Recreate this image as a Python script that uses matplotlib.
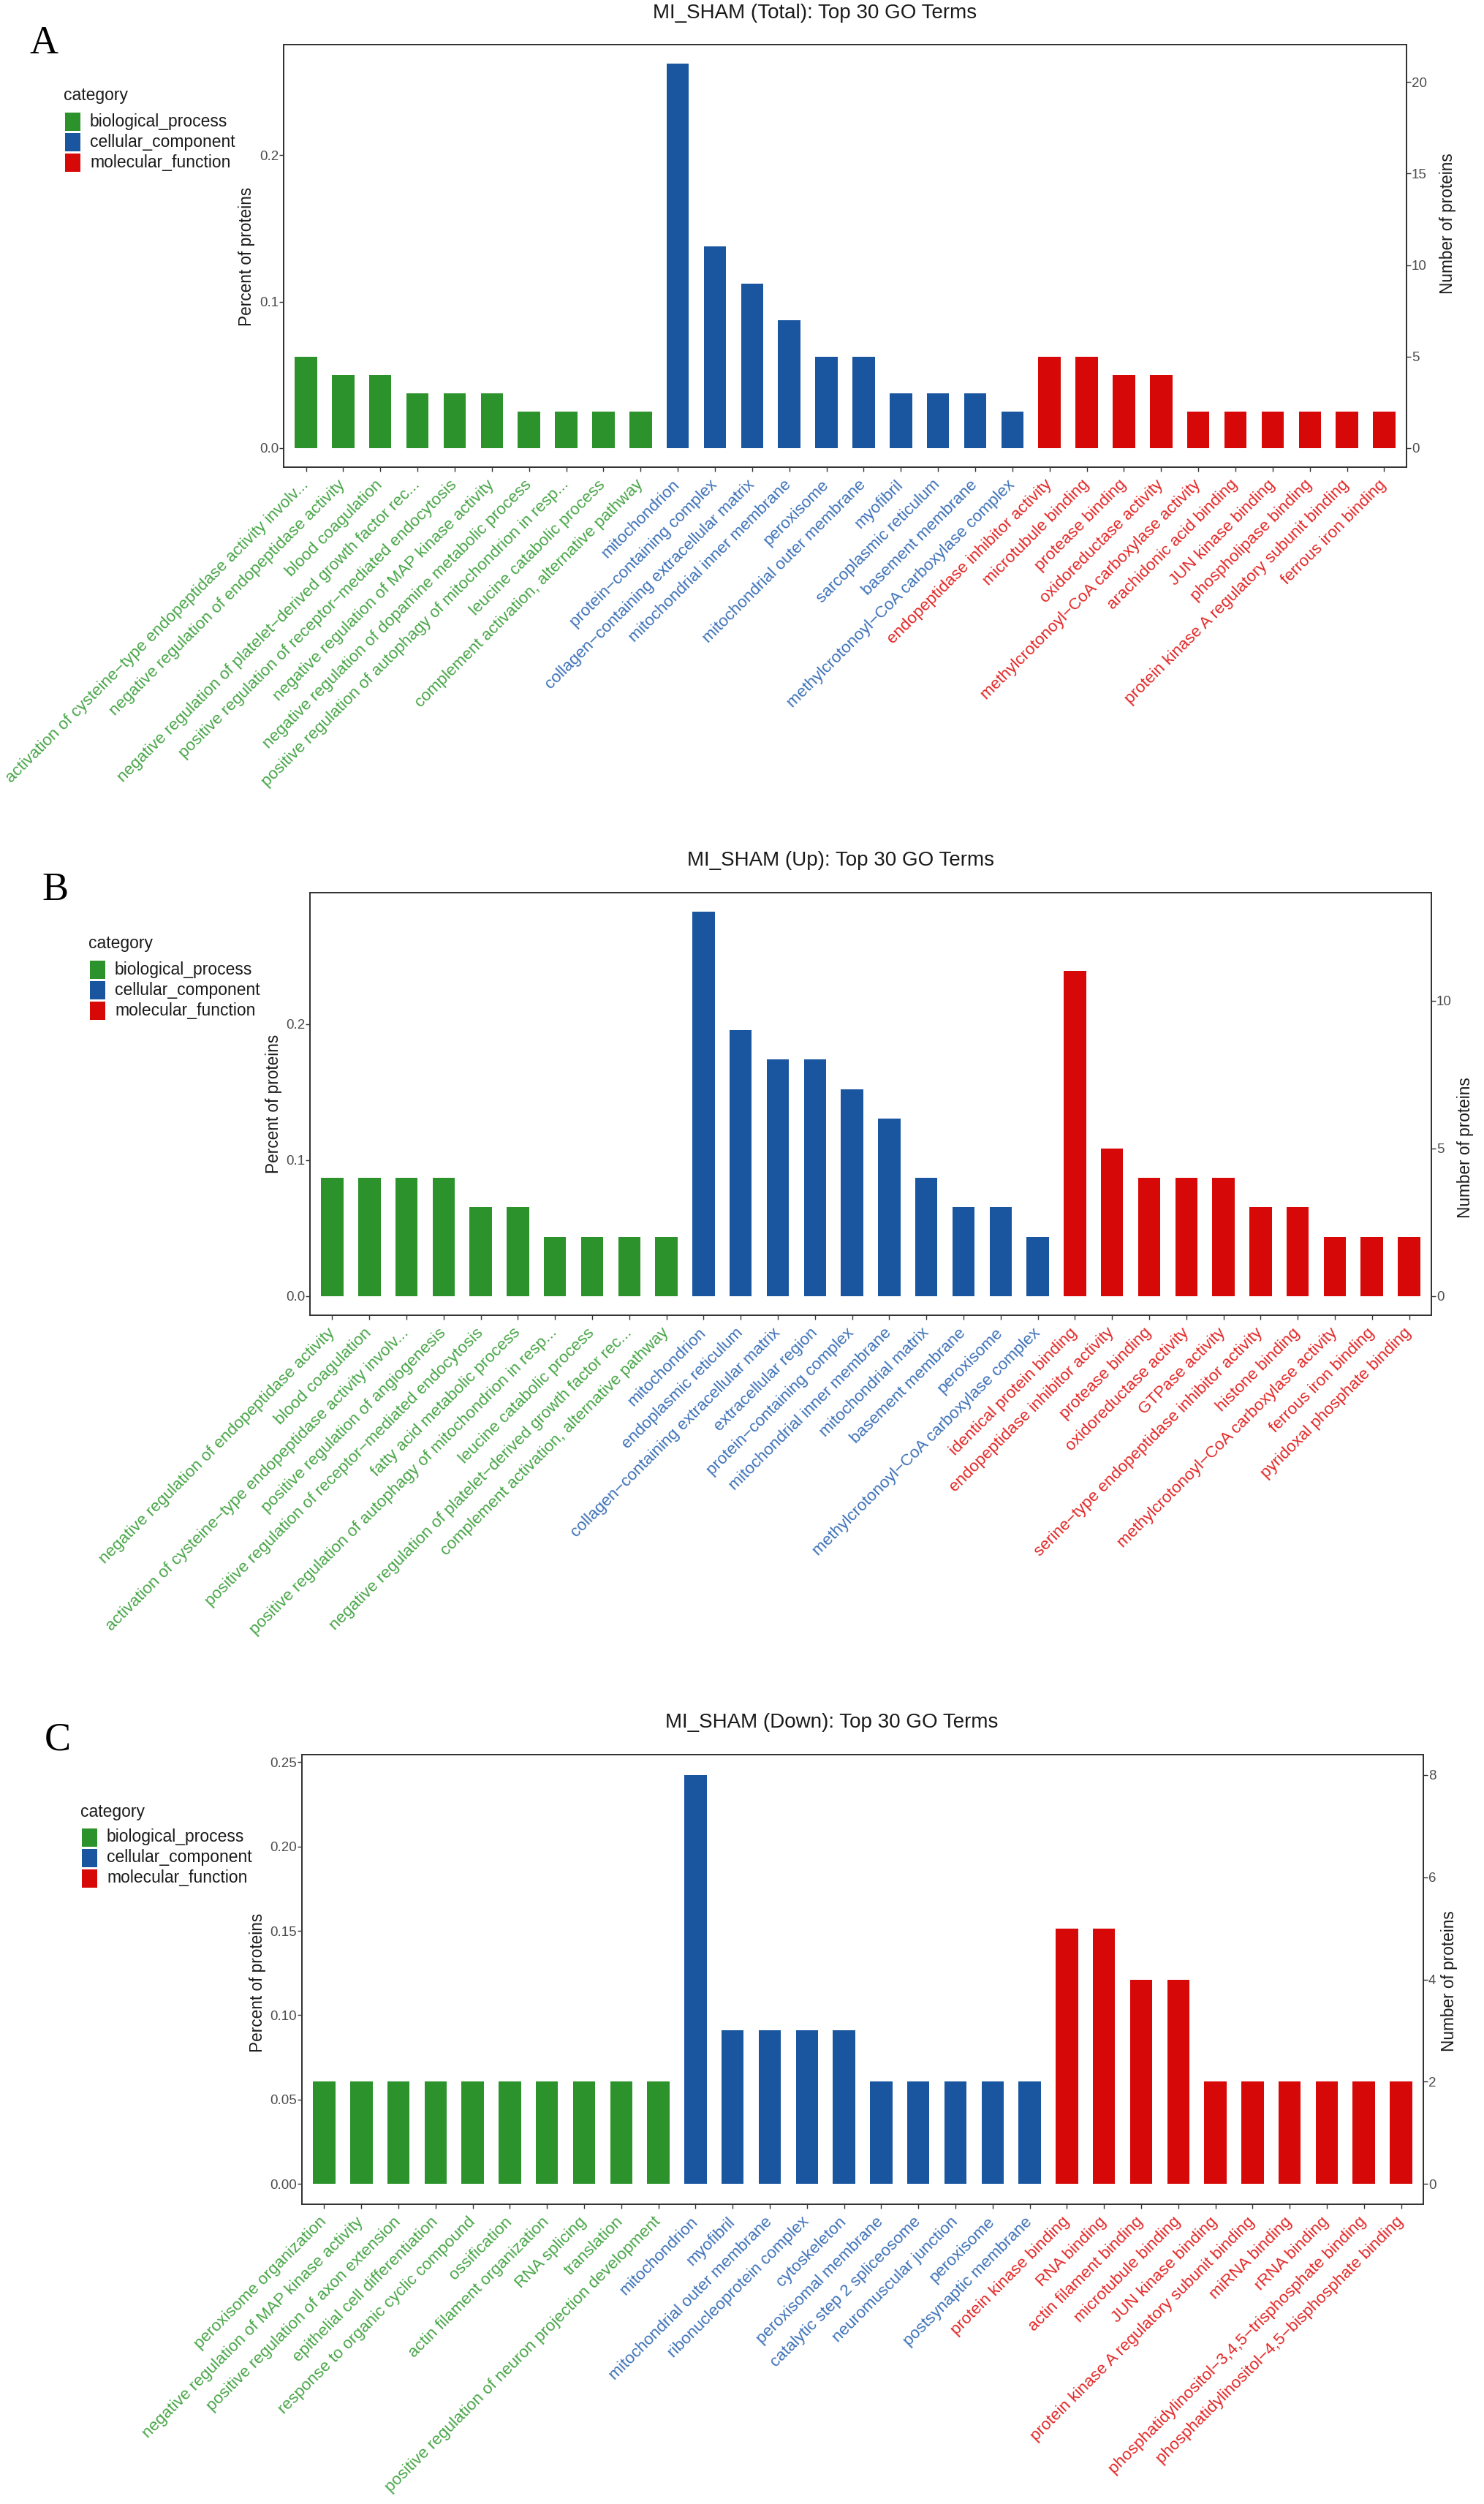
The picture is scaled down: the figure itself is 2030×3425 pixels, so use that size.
import numpy as np
import matplotlib
matplotlib.use("Agg")
import matplotlib.pyplot as plt
from matplotlib.patches import Rectangle

# ---- data -------------------------------------------------------------
categories = ["biological_process", "cellular_component", "molecular_function"]

# A: MI_SHAM (Total)
total_terms = [
    "activation of cysteine\u2212type endopeptidase activity involv...",
    "negative regulation of endopeptidase activity",
    "blood coagulation",
    "negative regulation of platelet\u2212derived growth factor rec...",
    "positive regulation of receptor\u2212mediated endocytosis",
    "negative regulation of MAP kinase activity",
    "negative regulation of dopamine metabolic process",
    "positive regulation of autophagy of mitochondrion in resp...",
    "leucine catabolic process",
    "complement activation, alternative pathway",
    "mitochondrion",
    "protein\u2212containing complex",
    "collagen\u2212containing extracellular matrix",
    "mitochondrial inner membrane",
    "peroxisome",
    "mitochondrial outer membrane",
    "myofibril",
    "sarcoplasmic reticulum",
    "basement membrane",
    "methylcrotonoyl\u2212CoA carboxylase complex",
    "endopeptidase inhibitor activity",
    "microtubule binding",
    "protease binding",
    "oxidoreductase activity",
    "methylcrotonoyl\u2212CoA carboxylase activity",
    "arachidonic acid binding",
    "JUN kinase binding",
    "phospholipase binding",
    "protein kinase A regulatory subunit binding",
    "ferrous iron binding",
]
total_counts = [5, 4, 4, 3, 3, 3, 2, 2, 2, 2,
                21, 11, 9, 7, 5, 5, 3, 3, 3, 2,
                5, 5, 4, 4, 2, 2, 2, 2, 2, 2]
total_n = 80

# B: MI_SHAM (Up)
up_terms = [
    "negative regulation of endopeptidase activity",
    "blood coagulation",
    "activation of cysteine\u2212type endopeptidase activity involv...",
    "positive regulation of angiogenesis",
    "positive regulation of receptor\u2212mediated endocytosis",
    "fatty acid metabolic process",
    "positive regulation of autophagy of mitochondrion in resp...",
    "leucine catabolic process",
    "negative regulation of platelet\u2212derived growth factor rec...",
    "complement activation, alternative pathway",
    "mitochondrion",
    "endoplasmic reticulum",
    "collagen\u2212containing extracellular matrix",
    "extracellular region",
    "protein\u2212containing complex",
    "mitochondrial inner membrane",
    "mitochondrial matrix",
    "basement membrane",
    "peroxisome",
    "methylcrotonoyl\u2212CoA carboxylase complex",
    "identical protein binding",
    "endopeptidase inhibitor activity",
    "protease binding",
    "oxidoreductase activity",
    "GTPase activity",
    "serine\u2212type endopeptidase inhibitor activity",
    "histone binding",
    "methylcrotonoyl\u2212CoA carboxylase activity",
    "ferrous iron binding",
    "pyridoxal phosphate binding",
]
up_counts = [4, 4, 4, 4, 3, 3, 2, 2, 2, 2,
             13, 9, 8, 8, 7, 6, 4, 3, 3, 2,
             11, 5, 4, 4, 4, 3, 3, 2, 2, 2]
up_n = 46

# C: MI_SHAM (Down)
down_terms = [
    "peroxisome organization",
    "negative regulation of MAP kinase activity",
    "positive regulation of axon extension",
    "epithelial cell differentiation",
    "response to organic cyclic compound",
    "ossification",
    "actin filament organization",
    "RNA splicing",
    "translation",
    "positive regulation of neuron projection development",
    "mitochondrion",
    "myofibril",
    "mitochondrial outer membrane",
    "ribonucleoprotein complex",
    "cytoskeleton",
    "peroxisomal membrane",
    "catalytic step 2 spliceosome",
    "neuromuscular junction",
    "peroxisome",
    "postsynaptic membrane",
    "protein kinase binding",
    "RNA binding",
    "actin filament binding",
    "microtubule binding",
    "JUN kinase binding",
    "protein kinase A regulatory subunit binding",
    "miRNA binding",
    "rRNA binding",
    "phosphatidylinositol\u22123,4,5\u2212trisphosphate binding",
    "phosphatidylinositol\u22124,5\u2212bisphosphate binding",
]
down_counts = [2, 2, 2, 2, 2, 2, 2, 2, 2, 2,
               8, 3, 3, 3, 3, 2, 2, 2, 2, 2,
               5, 5, 4, 4, 2, 2, 2, 2, 2, 2]
down_n = 33

term_category = [0] * 10 + [1] * 10 + [2] * 10

# ---- style ------------------------------------------------------------
W, H, DPI = 2031, 3425, 100
bar_colors = ["#2C922C", "#1A56A0", "#D70808"]
text_colors = ["#47A547", "#3D71B7", "#E32626"]
SANS = "Liberation Sans"
SERIF = "Liberation Serif"

plt.rcParams["font.family"] = SANS

fig = plt.figure(figsize=(W / DPI, H / DPI), dpi=DPI, facecolor="white")


def fx(px):
    return px / W


def fy(py):
    return 1 - py / H


def draw_panel(box, letter, letter_xy, title, title_xy, terms, counts, n_total,
               pct_ticks, pct_fmt, count_ticks, legend_xy, ylab_l, ylab_r):
    left, top, right, bottom = box
    ax = fig.add_axes([fx(left), fy(bottom), (right - left) / W, (bottom - top) / H])
    x = np.arange(len(terms))
    counts = np.array(counts)
    pct = counts / n_total
    cols = [bar_colors[c] for c in term_category]
    ax.bar(x, pct, width=0.6, color=cols, zorder=2)
    ax.set_xlim(-0.6, len(terms) - 0.4)
    ax.set_ylim(-0.05 * pct.max(), 1.05 * pct.max())

    ax.set_yticks(pct_ticks)
    ax.set_yticklabels([pct_fmt.format(t) for t in pct_ticks])
    ax.set_xticks(x)
    ax.set_xticklabels(terms, rotation=45, ha="right", va="center",
                       rotation_mode="anchor", fontsize=16.2)
    for lab, c in zip(ax.get_xticklabels(), term_category):
        lab.set_color(text_colors[c])
    ax.tick_params(axis="x", length=4, width=1, color="#333333", pad=11)
    ax.tick_params(axis="y", length=4, width=1, color="#333333", pad=1,
                   labelsize=13.5, labelcolor="#4D4D4D")

    ax2 = ax.twinx()
    ax2.set_ylim(-0.05 * counts.max(), 1.05 * counts.max())
    ax2.set_yticks(count_ticks)
    ax2.tick_params(axis="y", length=4, width=1, color="#333333", pad=1,
                    labelsize=13.5, labelcolor="#4D4D4D")
    for a in (ax, ax2):
        for s in a.spines.values():
            s.set_linewidth(1.3)
            s.set_color("#333333")

    fig.text(fx(ylab_l[0]), fy(ylab_l[1]), "Percent of proteins", rotation=90,
             ha="center", va="center", fontsize=16.3, color="#1A1A1A")
    fig.text(fx(ylab_r[0]), fy(ylab_r[1]), "Number of proteins", rotation=90,
             ha="center", va="center", fontsize=16.3, color="#1A1A1A")

    fig.text(fx(title_xy[0]), fy(title_xy[1]), title, ha="center", va="center",
             fontsize=20, color="#1A1A1A")
    fig.text(fx(letter_xy[0]), fy(letter_xy[1]), letter, ha="center", va="center",
             fontsize=39, family=SERIF, color="black")

    # legend
    lx, ly = legend_xy
    fig.text(fx(lx - 2), fy(ly), "category", ha="left", va="center",
             fontsize=16.5, color="#1A1A1A")
    for i, name in enumerate(categories):
        cy = ly + 35 + 28 * i
        fig.patches.append(Rectangle((fx(lx), fy(cy + 12.5)), 21 / W, 25 / H,
                                     transform=fig.transFigure,
                                     facecolor=bar_colors[i], edgecolor="none"))
        fig.text(fx(lx + 34), fy(cy), name, ha="left", va="center",
                 fontsize=16.5, color="#1A1A1A")


draw_panel((388, 61, 1924, 639), "A", (60, 60),
           "MI_SHAM (Total): Top 30 GO Terms", (1115, 18),
           total_terms, total_counts, total_n,
           [0.0, 0.1, 0.2], "{:.1f}", [0, 5, 10, 15, 20],
           (89, 131), (338, 351), (1981, 306))

draw_panel((424, 1221, 1958, 1799), "B", (76, 1218),
           "MI_SHAM (Up): Top 30 GO Terms", (1150, 1177),
           up_terms, up_counts, up_n,
           [0.0, 0.1, 0.2], "{:.1f}", [0, 5, 10],
           (123, 1291), (374, 1510), (2005, 1570))

draw_panel((413, 2400, 1947, 3015), "C", (79, 2380),
           "MI_SHAM (Down): Top 30 GO Terms", (1138, 2356),
           down_terms, down_counts, down_n,
           [0.0, 0.05, 0.10, 0.15, 0.20, 0.25], "{:.2f}", [0, 2, 4, 6, 8],
           (112, 2478), (353, 2712), (1983, 2710))

fig.savefig("out.png", dpi=DPI, facecolor="white")
